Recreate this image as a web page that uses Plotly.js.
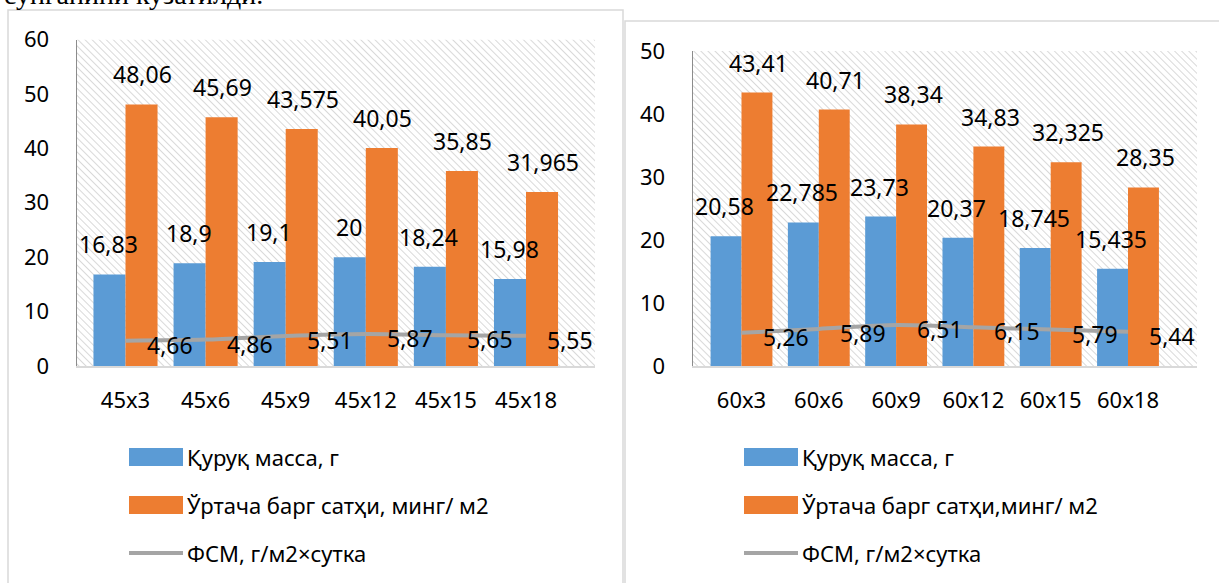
<!DOCTYPE html>
<html>
<head>
<meta charset="utf-8">
<script src="https://cdn.plot.ly/plotly-3.0.1.min.js"></script>
<style>html,body{margin:0;padding:0;background:#fff;}#chart{width:1219px;height:583px;}</style>
</head>
<body>
<div id="chart"></div>
<script>
// ---- data ----
const cats45 = ['45x3', '45x6', '45x9', '45x12', '45x15', '45x18'];
const mass45 = [16.83, 18.9, 19.1, 20, 18.24, 15.98];
const leaf45 = [48.06, 45.69, 43.575, 40.05, 35.85, 31.965];
const fsm45  = [4.66, 4.86, 5.51, 5.87, 5.65, 5.55];

const cats60 = ['60x3', '60x6', '60x9', '60x12', '60x15', '60x18'];
const mass60 = [20.58, 22.785, 23.73, 20.37, 18.745, 15.435];
const leaf60 = [43.41, 40.71, 38.34, 34.83, 32.325, 28.35];
const fsm60  = [5.26, 5.89, 6.51, 6.15, 5.79, 5.44];

const nameMass = 'Қуруқ масса, г';
const nameLeafL = 'Ўртача барг сатҳи, минг/ м2';
const nameLeafR = 'Ўртача барг сатҳи,минг/ м2';
const nameFsm = 'ФСМ, г/м2×сутка';
const headText = 'сунганини кузатилди.';

// ---- style ----
const W = 1219, H = 583;
const BLUE = '#5b9bd5', ORANGE = '#ed7d31', GRAY = '#a5a5a5';
const FONT = 'Noto Sans, Open Sans, sans-serif';
const px = v => v / W;
const py = v => 1 - v / H;

const fmt = v => String(v).replace('.', ',');

function hatchSvg(w, h) {
  const svg = "<svg xmlns='http://www.w3.org/2000/svg' width='" + w + "' height='" + h + "'>" +
    "<defs><pattern id='p' width='5' height='5' patternUnits='userSpaceOnUse' patternTransform='rotate(-45)'>" +
    "<line x1='0' y1='0' x2='0' y2='5' stroke='#cfcfcf' stroke-width='1.6'/></pattern></defs>" +
    "<rect width='100%' height='100%' fill='url(#p)'/></svg>";
  return 'data:image/svg+xml;charset=utf-8,' + encodeURIComponent(svg);
}

// plot geometry (pixels)
const L = {x0: 77, x1: 595, y0: 39.5, y1: 366};
const R = {x0: 693, x1: 1197, y0: 51, y1: 366};

const traces = [
  {type: 'bar', x: cats45, y: mass45, name: nameMass, marker: {color: BLUE}, xaxis: 'x', yaxis: 'y', showlegend: false, hoverinfo: 'skip'},
  {type: 'bar', x: cats45, y: leaf45, name: nameLeafL, marker: {color: ORANGE}, xaxis: 'x', yaxis: 'y', showlegend: false, hoverinfo: 'skip'},
  {type: 'scatter', mode: 'lines', x: cats45, y: fsm45, name: nameFsm, line: {color: GRAY, width: 4, shape: 'spline', smoothing: 0.8}, xaxis: 'x', yaxis: 'y', showlegend: false, hoverinfo: 'skip'},
  {type: 'bar', x: cats60, y: mass60, name: nameMass, marker: {color: BLUE}, xaxis: 'x2', yaxis: 'y2', showlegend: false, hoverinfo: 'skip'},
  {type: 'bar', x: cats60, y: leaf60, name: nameLeafR, marker: {color: ORANGE}, xaxis: 'x2', yaxis: 'y2', showlegend: false, hoverinfo: 'skip'},
  {type: 'scatter', mode: 'lines', x: cats60, y: fsm60, name: nameFsm, line: {color: GRAY, width: 4, shape: 'spline', smoothing: 0.8}, xaxis: 'x2', yaxis: 'y2', showlegend: false, hoverinfo: 'skip'}
];

const annotations = [];
function barLabels(cats, vals, xr, yr, shift) {
  cats.forEach((c, i) => annotations.push({
    x: c, y: vals[i], xref: xr, yref: yr, text: fmt(vals[i]), showarrow: false,
    xanchor: 'center', yanchor: 'bottom', xshift: shift, yshift: 12,
    font: {family: FONT, size: 23, color: '#000'}
  }));
}
function lineLabels(cats, vals, xr, yr) {
  cats.forEach((c, i) => annotations.push({
    x: c, y: vals[i], xref: xr, yref: yr, text: fmt(vals[i]), showarrow: false,
    xanchor: 'left', yanchor: 'middle', xshift: 19, yshift: -4,
    font: {family: FONT, size: 23, color: '#000'}
  }));
}
barLabels(cats45, mass45, 'x', 'y', -17);
barLabels(cats45, leaf45, 'x', 'y', 17);
lineLabels(cats45, fsm45, 'x', 'y');
barLabels(cats60, mass60, 'x2', 'y2', -17);
barLabels(cats60, leaf60, 'x2', 'y2', 17);
lineLabels(cats60, fsm60, 'x2', 'y2');

const shapes = [
  // chart boxes
  {type: 'rect', xref: 'paper', yref: 'paper', x0: px(8), x1: px(623), y0: py(600), y1: py(10), line: {color: '#d9d9d9', width: 1.5}, fillcolor: 'rgba(0,0,0,0)', layer: 'below'},
  {type: 'rect', xref: 'paper', yref: 'paper', x0: px(625), x1: px(1240), y0: py(600), y1: py(21), line: {color: '#d9d9d9', width: 1.5}, fillcolor: 'rgba(0,0,0,0)', layer: 'below'}
];

function legend(xs, xt, leafName) {
  const items = [
    {name: nameMass, y: 457, kind: 'rect', color: BLUE},
    {name: leafName, y: 505, kind: 'rect', color: ORANGE},
    {name: nameFsm, y: 553, kind: 'line', color: GRAY}
  ];
  items.forEach(it => {
    if (it.kind === 'rect') {
      shapes.push({type: 'rect', xref: 'paper', yref: 'paper', x0: px(xs), x1: px(xs + 54), y0: py(it.y + 9), y1: py(it.y - 9), line: {width: 0}, fillcolor: it.color});
    } else {
      shapes.push({type: 'line', xref: 'paper', yref: 'paper', x0: px(xs), x1: px(xs + 54), y0: py(it.y), y1: py(it.y), line: {color: it.color, width: 4}});
    }
    annotations.push({xref: 'paper', yref: 'paper', x: px(xt), y: py(it.y), text: it.name, showarrow: false,
      xanchor: 'left', yanchor: 'middle', font: {family: FONT, size: 22, color: '#000'}});
  });
}
legend(129, 185, nameLeafL);
legend(744, 800, nameLeafR);

// partially visible text of the page above the charts
annotations.push({xref: 'paper', yref: 'paper', x: px(2), y: 1, text: headText, showarrow: false,
  xanchor: 'left', yanchor: 'bottom', yshift: -12, font: {family: 'Liberation Serif, serif', size: 28, color: '#000'}});

const axBase = {
  showgrid: false, zeroline: false, ticks: '', fixedrange: true,
  tickfont: {family: FONT, size: 22, color: '#000'}
};

const layout = {
  width: W, height: H,
  margin: {l: 0, r: 0, t: 0, b: 0},
  paper_bgcolor: '#fff', plot_bgcolor: 'rgba(0,0,0,0)',
  barmode: 'group', bargap: 0.2, bargroupgap: 0,
  showlegend: false,
  font: {family: FONT},
  xaxis: Object.assign({}, axBase, {domain: [px(L.x0), px(L.x1)], anchor: 'y', type: 'category', categoryorder: 'array', categoryarray: cats45,
    showline: true, linecolor: '#d9d9d9', linewidth: 2, ticklabelstandoff: 14}),
  yaxis: Object.assign({}, axBase, {domain: [py(L.y1), py(L.y0)], anchor: 'x', range: [0, 60], dtick: 10, tick0: 0,
    showline: true, linecolor: '#8c8c8c', linewidth: 1.5, ticklabelstandoff: 22}),
  xaxis2: Object.assign({}, axBase, {domain: [px(R.x0), px(R.x1)], anchor: 'y2', type: 'category', categoryorder: 'array', categoryarray: cats60,
    showline: true, linecolor: '#d9d9d9', linewidth: 2, ticklabelstandoff: 14}),
  yaxis2: Object.assign({}, axBase, {domain: [py(R.y1), py(R.y0)], anchor: 'x2', range: [0, 50], dtick: 10, tick0: 0,
    showline: true, linecolor: '#8c8c8c', linewidth: 1.5, ticklabelstandoff: 22}),
  images: [
    {source: hatchSvg(L.x1 - L.x0, L.y1 - L.y0), xref: 'paper', yref: 'paper', x: px(L.x0), y: py(L.y0), sizex: px(L.x1) - px(L.x0), sizey: py(L.y0) - py(L.y1), xanchor: 'left', yanchor: 'top', sizing: 'stretch', layer: 'below'},
    {source: hatchSvg(R.x1 - R.x0, R.y1 - R.y0), xref: 'paper', yref: 'paper', x: px(R.x0), y: py(R.y0), sizex: px(R.x1) - px(R.x0), sizey: py(R.y0) - py(R.y1), xanchor: 'left', yanchor: 'top', sizing: 'stretch', layer: 'below'}
  ],
  shapes: shapes,
  annotations: annotations
};

Plotly.newPlot('chart', traces, layout, {staticPlot: true, displayModeBar: false});
</script>
</body>
</html>
